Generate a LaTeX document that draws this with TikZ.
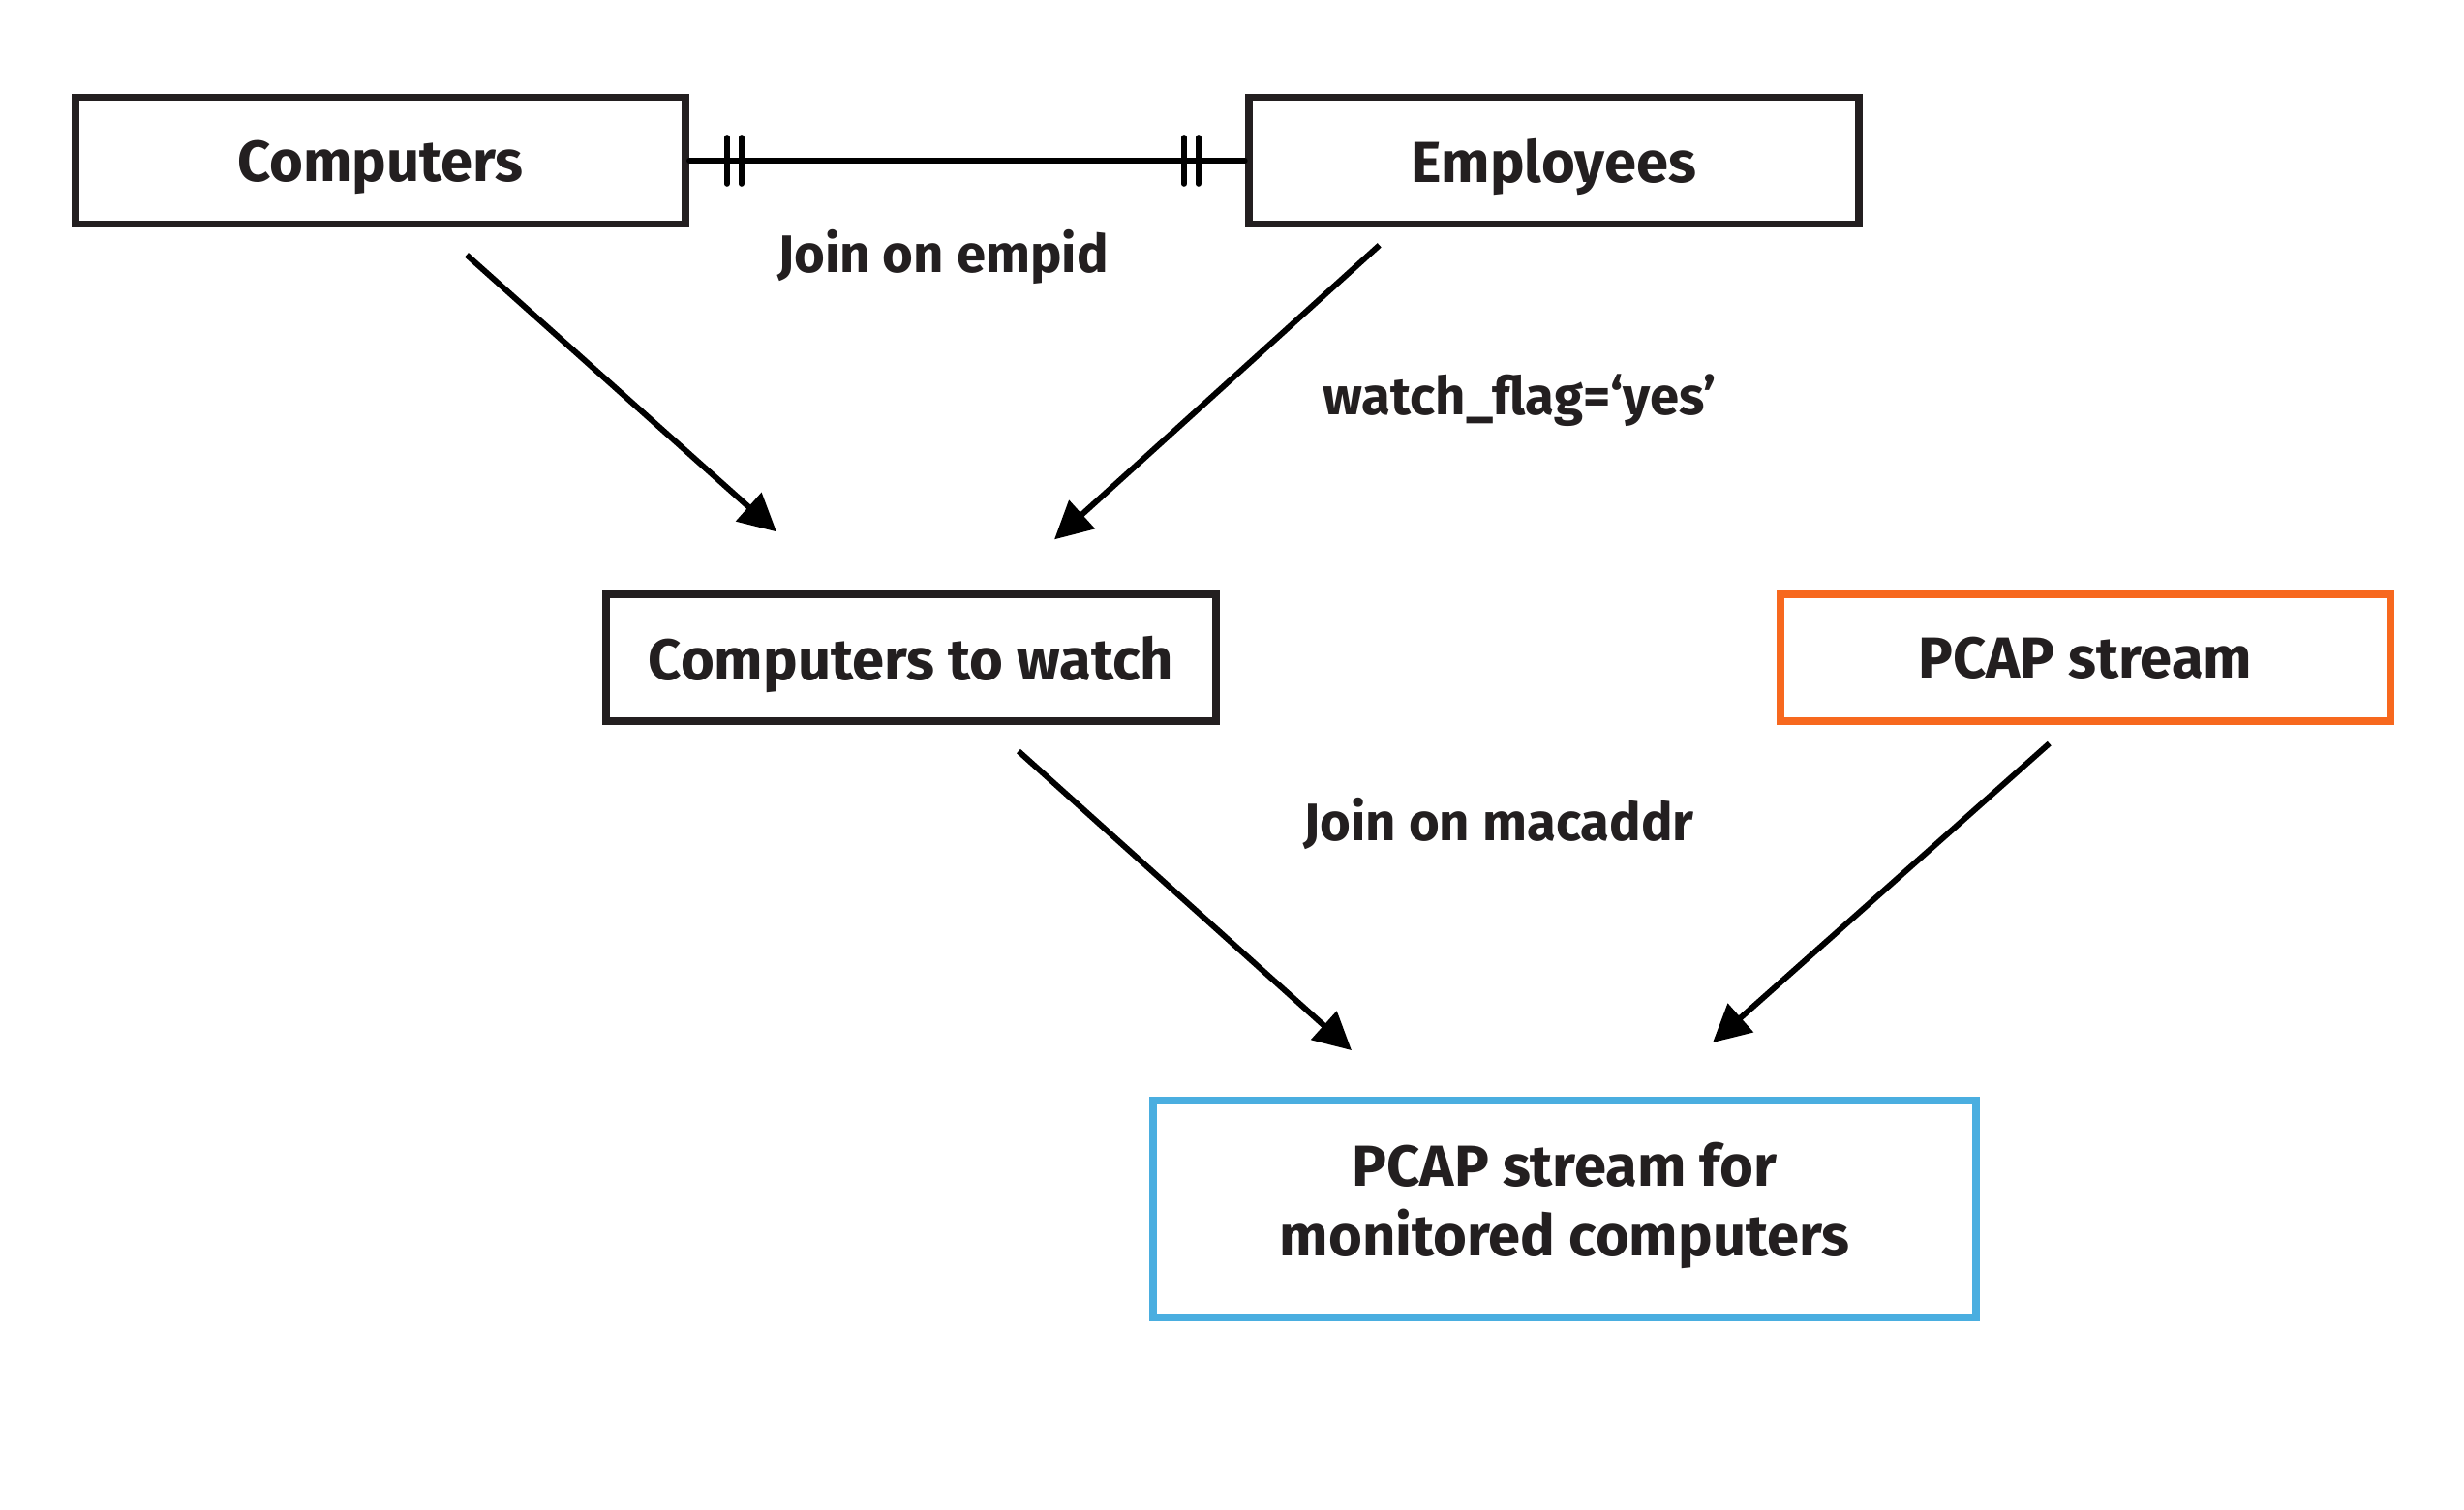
\documentclass[tikz,border=0pt]{standalone}
\usepackage{xcolor}
\usepackage{fontspec}
\setmainfont{Fira Sans}
\usepackage{tikz}
\usetikzlibrary{positioning, arrows.meta}

\definecolor{ink}{HTML}{231F20}
\definecolor{pcaporange}{HTML}{F7681E}
\definecolor{pcapblue}{HTML}{4AAEE0}

\begin{document}
\begin{tikzpicture}[node distance = 3.75cm]
            \tikzstyle{entity} = [draw=ink, line width=2.2pt, minimum width=6.3cm, minimum height=1.31cm, inner sep=0pt, text depth=0pt, text=ink, font=\fontsize{17}{20.5}\selectfont\bfseries]
            \tikzstyle{source} = [entity, draw=pcaporange]
            \tikzstyle{sink} = [entity, draw=pcapblue, minimum width=8.5cm, minimum height=2.24cm, text depth=0.2cm, align=center]
            \tikzstyle{cond} = [text=ink, inner sep=0pt, font=\fontsize{15.5}{18}\selectfont\bfseries]
            \tikzstyle{flow} = [-{Triangle[length=11pt, width=11pt]}, line width=1.7pt, black]
            \tikzstyle{link} = [line width=1.6pt, black, line cap=round]

            \useasboundingbox (0,0) rectangle (25.45,-15.6);

            \node [entity] (comp) at (3.93,-1.66) {Computers};
            \node [entity, right = 5.74cm of comp] (emp) {Employees};

            \node [entity, below = of comp, xshift=5.48cm] (watch) {Computers to watch};
            \node [source, right = 5.75cm of watch] (pcap) {PCAP stream};

            \node [sink, below = 3.84cm of watch, xshift=6.75cm] (mon) {PCAP stream for\\monitored computers};

            \node [cond] (empid) at (9.74,-2.65) {Join on empid};
            \node [cond] (flag) at (15.70,-4.14) {watch\_flag=‘yes’};
            \node [cond] (macaddr) at (15.48,-8.51) {Join on macaddr};


            \draw [link] (comp.east) to (emp.west);
            \draw [link] ([xshift=0.39cm, yshift=0.24cm]comp.east) to ([xshift=0.39cm, yshift=-0.24cm]comp.east);
            \draw [link] ([xshift=0.54cm, yshift=0.24cm]comp.east) to ([xshift=0.54cm, yshift=-0.24cm]comp.east);
            \draw [link] ([xshift=-0.63cm, yshift=0.24cm]emp.west) to ([xshift=-0.63cm, yshift=-0.24cm]emp.west);
            \draw [link] ([xshift=-0.48cm, yshift=0.24cm]emp.west) to ([xshift=-0.48cm, yshift=-0.24cm]emp.west);

            \draw [flow] ([xshift=0.89cm, yshift=-0.28cm]comp.south) to ([xshift=-1.39cm, yshift=0.61cm]watch.north);
            \draw [flow] ([xshift=-1.80cm, yshift=-0.18cm]emp.south) to ([xshift=1.48cm, yshift=0.53cm]watch.north);
            \draw [flow] ([xshift=1.11cm, yshift=-0.27cm]watch.south) to ([xshift=-2.20cm, yshift=0.48cm]mon.north);
            \draw [flow] ([xshift=-0.37cm, yshift=-0.19cm]pcap.south) to ([xshift=1.53cm, yshift=0.56cm]mon.north);
        \end{tikzpicture}
\end{document}
